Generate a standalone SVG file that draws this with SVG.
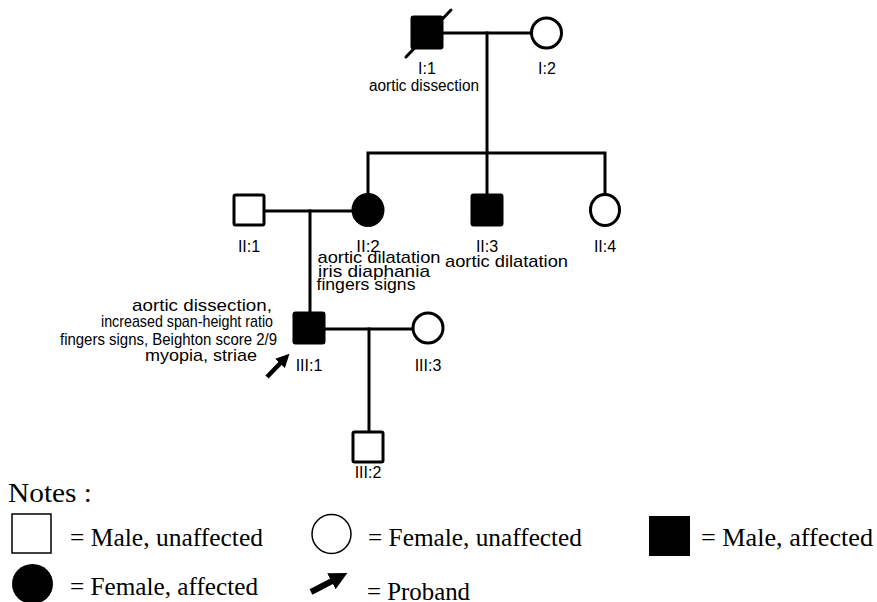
<svg xmlns="http://www.w3.org/2000/svg" width="877" height="602" viewBox="0 0 877 602">
<style>
.ln{stroke:#000;stroke-width:3;fill:none;stroke-linecap:square}
.sym{stroke:#000;stroke-width:3;stroke-linejoin:round}
.open{fill:#fff}
.aff{fill:#000}
.lbl{font-family:"Liberation Sans",Arial,sans-serif;font-size:16px;fill:#000;text-anchor:middle}
.nt{font-size:17px}
.note{font-family:"Liberation Sans",Arial,sans-serif;font-size:17px;fill:#000;text-anchor:end}
.leg{font-family:"Liberation Serif","Times New Roman",serif;font-size:26px;fill:#000}
.lsym{stroke:#000;stroke-width:1.5}
.arrow{stroke:#000;fill:none;marker-end:url(#head)}
</style>
<defs>
<marker id="head" viewBox="0 0 10 10" refX="1" refY="5" markerWidth="3" markerHeight="3" orient="auto" markerUnits="strokeWidth">
<path d="M0,0 L10,5 L0,10 z" fill="#000"/>
</marker>
</defs>
<g id="connectors">
<line class="ln" x1="442" y1="33" x2="531" y2="33"/>
<line class="ln" x1="487" y1="33" x2="487" y2="153"/>
<polyline class="ln" points="368,194 368,153 605,153 605,194"/>
<line class="ln" x1="487" y1="153" x2="487" y2="194"/>
<line class="ln" x1="264" y1="211" x2="353" y2="211"/>
<line class="ln" x1="310" y1="211" x2="310" y2="313"/>
<line class="ln" x1="324" y1="329" x2="413" y2="329"/>
<line class="ln" x1="369" y1="329" x2="369" y2="432"/>
</g>
<g id="I-1">
<rect class="sym aff" x="412" y="17" width="30" height="31" rx="1.5"/>
<line stroke="#000" stroke-width="3" stroke-linecap="round" x1="406" y1="57" x2="451" y2="10"/>
<text class="lbl" x="427" y="74">I:1</text>
<text class="lbl" x="424" y="91" textLength="110" lengthAdjust="spacingAndGlyphs">aortic dissection</text>
</g>
<g id="I-2">
<circle class="sym open" cx="546.5" cy="33" r="15"/>
<text class="lbl" x="547" y="74">I:2</text>
</g>
<g id="II-1">
<rect class="sym open" x="234" y="195" width="30" height="30" rx="1.5"/>
<text class="lbl" x="249" y="252">II:1</text>
</g>
<g id="II-2">
<ellipse class="sym aff" cx="368" cy="210" rx="15" ry="15.5"/>
<text class="lbl nt" x="368" y="252">II:2</text>
<text class="lbl nt" x="379" y="263" textLength="123" lengthAdjust="spacingAndGlyphs">aortic dilatation</text>
<text class="lbl nt" x="374" y="277" textLength="112" lengthAdjust="spacingAndGlyphs">iris diaphania</text>
<text class="lbl nt" x="366" y="290" textLength="99" lengthAdjust="spacingAndGlyphs">fingers signs</text>
</g>
<g id="II-3">
<rect class="sym aff" x="472" y="195" width="30" height="30" rx="1.5"/>
<text class="lbl" x="487" y="252">II:3</text>
<text class="lbl nt" x="506.5" y="267" textLength="123" lengthAdjust="spacingAndGlyphs">aortic dilatation</text>
</g>
<g id="II-4">
<ellipse class="sym open" cx="605" cy="210" rx="14.5" ry="15.5"/>
<text class="lbl" x="605" y="252">II:4</text>
</g>
<g id="III-1">
<rect class="sym aff" x="294" y="313" width="30" height="30" rx="1.5"/>
<text class="lbl" x="309" y="371">III:1</text>
<text class="note" x="272" y="311" textLength="140" lengthAdjust="spacingAndGlyphs">aortic dissection,</text>
<text class="note" x="273" y="327" textLength="172" lengthAdjust="spacingAndGlyphs">increased span-height ratio</text>
<text class="note" x="277" y="345" textLength="217" lengthAdjust="spacingAndGlyphs">fingers signs, Beighton score 2/9</text>
<text class="note" x="257" y="361" textLength="112" lengthAdjust="spacingAndGlyphs">myopia, striae</text>
<line class="arrow" stroke-width="4.5" x1="267" y1="377" x2="281" y2="362.5"/>
</g>
<g id="III-3">
<circle class="sym open" cx="428" cy="328" r="15"/>
<text class="lbl" x="428" y="371">III:3</text>
</g>
<g id="III-2">
<rect class="sym open" x="353" y="432" width="30" height="30" rx="1.5"/>
<text class="lbl" x="368" y="478">III:2</text>
</g>
<g id="legend">
<text class="leg" x="8" y="502" style="font-size:27px" textLength="84" lengthAdjust="spacingAndGlyphs">Notes :</text>
<rect class="lsym" fill="#fff" x="12" y="514" width="39" height="39"/>
<text class="leg" x="70" y="546" textLength="193" lengthAdjust="spacingAndGlyphs">= Male, unaffected</text>
<ellipse class="lsym" fill="#fff" cx="331.5" cy="534" rx="19.5" ry="19.5"/>
<text class="leg" x="368" y="546" textLength="214" lengthAdjust="spacingAndGlyphs">= Female, unaffected</text>
<rect fill="#000" x="649" y="516" width="41" height="40"/>
<text class="leg" x="701" y="546" textLength="172" lengthAdjust="spacingAndGlyphs">= Male, affected</text>
<ellipse fill="#000" cx="32.5" cy="584" rx="20.5" ry="20"/>
<text class="leg" x="70" y="595" textLength="188" lengthAdjust="spacingAndGlyphs">= Female, affected</text>
<line class="arrow" stroke-width="6" x1="311" y1="592" x2="333" y2="580.5"/>
<text class="leg" x="367" y="600" textLength="103" lengthAdjust="spacingAndGlyphs">= Proband</text>
</g>
</svg>
